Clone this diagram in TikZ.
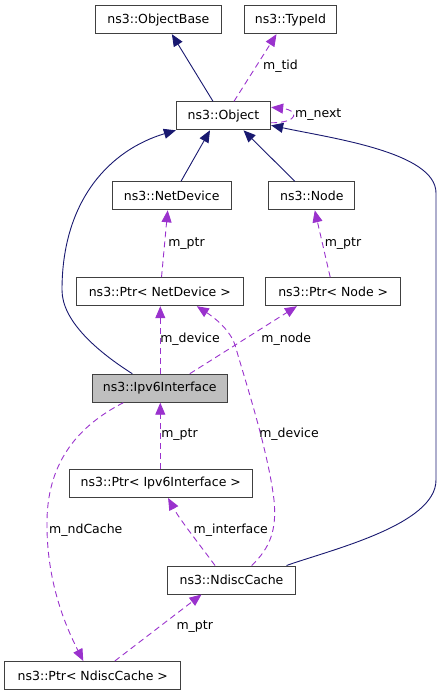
\documentclass[tikz,border=0pt]{standalone}
\usepackage{fontspec}
\setmainfont{DejaVu Sans}
\usetikzlibrary{arrows.meta}
\definecolor{inhcol}{HTML}{191970}
\definecolor{usecol}{HTML}{9A32CD}
\definecolor{boxcol}{HTML}{404040}
\definecolor{hlfill}{HTML}{BFBFBF}
\begin{document}
\begin{tikzpicture}[x=1pt,y=-1pt,
  cls/.style={draw=boxcol, line width=1pt, rectangle, minimum height=28pt, inner sep=0pt, fill=white, font=\fontsize{12.5}{14}\selectfont},
  inh/.style={draw=inhcol, line width=0.9pt, -{Triangle[length=12pt,width=10pt]}},
  use/.style={draw=usecol, line width=0.9pt, dash pattern=on 6pt off 4pt, -{Triangle[length=12pt,width=10pt]}},
  lbl/.style={font=\fontsize{12.5}{14}\selectfont, inner sep=0pt}]
\useasboundingbox (0,0) rectangle (443,696);
% classes
\node[cls, minimum width=126.7pt] (objbase) at (158.4,19.7) {ns3::ObjectBase};
\node[cls, minimum width=92.3pt] (typeid) at (290.5,19.7) {ns3::TypeId};
\node[cls, minimum width=94.3pt] (obj) at (223.5,115.8) {ns3::Object};
\node[cls, minimum width=118.7pt] (netdev) at (171.7,195.8) {ns3::NetDevice};
\node[cls, minimum width=86.3pt] (nodecl) at (311.8,195.8) {ns3::Node};
\node[cls, minimum width=167pt] (ptrnd) at (159.8,291.7) {ns3::Ptr< NetDevice >};
\node[cls, minimum width=135pt] (ptrnode) at (333.2,291.7) {ns3::Ptr< Node >};
\node[cls, minimum width=135pt, fill=hlfill] (ipv6) at (159.8,388.2) {ns3::Ipv6Interface};
\node[cls, minimum width=183pt] (ptripv6) at (160.8,483.5) {ns3::Ptr< Ipv6Interface >};
\node[cls, minimum width=128.3pt] (ndisc) at (231.5,580) {ns3::NdiscCache};
\node[cls, minimum width=176.3pt] (ptrndc) at (92.8,675.5) {ns3::Ptr< NdiscCache >};
% inheritance
\draw[inh] ([xshift=-10.5pt]obj.north) -- ([xshift=13.5pt]objbase.south);
\draw[inh] ([xshift=9.3pt]netdev.north) -- ([xshift=-13.5pt]obj.south);
\draw[inh] ([xshift=-17pt]nodecl.north) -- ([xshift=20pt]obj.south);
\draw[inh] ([xshift=-27.5pt]ipv6.north) .. controls (95,350) and (62,320) .. (62,290)
   .. controls (62,200) and (110,150) .. (obj.south west);
\draw[inh] ([xshift=55pt]ndisc.north) .. controls (330,550) and (436,525) .. (436,480)
   -- (436,193) .. controls (436,152) and (330,138) .. ([yshift=-9.5pt]obj.east);
% usage
\draw[use] ([xshift=10.5pt]obj.north) -- ([xshift=-14pt]typeid.south);
\node[lbl] (ltid) at (280.5,66.7) {m\_tid};
\draw[use] ([yshift=-7pt]obj.east) .. controls +(28,0) and +(28,3) .. ([yshift=8.5pt]obj.east);
\node[lbl] (lnext) at (318.3,114.3) {m\_next};
\draw[use] ([xshift=1.7pt]ptrnd.north) -- ([xshift=-4pt]netdev.south);
\node[lbl] (lptr1) at (186.5,243.3) {m\_ptr};
\draw[use] ([xshift=-3pt]ptrnode.north) -- ([xshift=3pt]nodecl.south);
\node[lbl] (lptr2) at (343,243.3) {m\_ptr};
\draw[use] ([xshift=0.5pt]ipv6.north) -- ([xshift=0.5pt]ptrnd.south);
\node[lbl] (ldev1) at (190,339) {m\_device};
\draw[use] ([xshift=30pt]ipv6.north) -- ([xshift=-36.3pt]ptrnode.south);
\node[lbl] (lnode) at (286.3,339) {m\_node};
\draw[use] ([xshift=20.2pt]ndisc.north) .. controls (270,548) and (277,530) .. (274,500)
   .. controls (268,450) and (245,380) .. (235,345)
   .. controls (230,330) and (215,318) .. ([xshift=37pt]ptrnd.south);
\node[lbl] (ldev2) at (289,434.3) {m\_device};
\draw[use] ([xshift=-0.5pt]ptripv6.north) -- ([xshift=0.5pt]ipv6.south);
\node[lbl] (lptr3) at (179.5,434.3) {m\_ptr};
\draw[use] ([xshift=-16.5pt]ndisc.north) .. controls (200,545) and (180,520) .. ([xshift=7.3pt]ptripv6.south);
\node[lbl] (lintf) at (230.8,530.7) {m\_interface};
\draw[use] ([xshift=-36.5pt]ipv6.south) .. controls (80,425) and (48,460) .. (47,520)
   .. controls (46,580) and (65,625) .. ([xshift=-9.5pt]ptrndc.north);
\node[lbl] (lndc) at (85.8,530.7) {m\_ndCache};
\draw[use] ([xshift=22pt]ptrndc.north) -- ([xshift=-30pt]ndisc.south);
\node[lbl] (lptr4) at (194.7,626.7) {m\_ptr};
\end{tikzpicture}
\end{document}
